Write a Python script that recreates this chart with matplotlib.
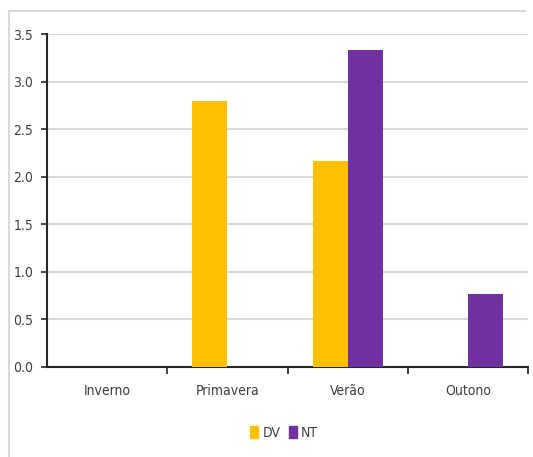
import matplotlib.pyplot as plt
import numpy as np
from matplotlib.patches import Rectangle
from matplotlib.lines import Line2D

seasons = ["Inverno", "Primavera", "Verão", "Outono"]
dv_values = [0.0, 2.80, 2.17, 0.0]
nt_values = [0.0, 0.0, 3.33, 0.77]
y_ticks = [0.0, 0.5, 1.0, 1.5, 2.0, 2.5, 3.0, 3.5]

dv_color = "#FFC000"
nt_color = "#7030A0"

plt.rcParams['font.family'] = ['DejaVu Sans']
plt.rcParams['font.stretch'] = 'condensed'

W, H = 533, 457
fig = plt.figure(figsize=(W / 100, H / 100), dpi=100)

# outer chart-area frame (top and left edges)
fig.add_artist(Line2D([8.5 / W, 526 / W], [1 - 10.5 / H, 1 - 10.5 / H],
                      transform=fig.transFigure, color="#d9d9d9", linewidth=1.5,
                      solid_capstyle="butt"))
fig.add_artist(Line2D([8.5 / W, 8.5 / W], [0.0, 1 - 10.5 / H],
                      transform=fig.transFigure, color="#d9d9d9", linewidth=1.5))

left, right, top, bottom = 47, 528, 34, 367
ax = fig.add_axes([left / W, 1 - bottom / H, (right - left) / W, (bottom - top) / H])

x = np.arange(len(seasons))
bw = 35 / 120.3
ax.bar(x - bw / 2, dv_values, bw, color=dv_color, label="DV", zorder=3)
ax.bar(x + bw / 2, nt_values, bw, color=nt_color, label="NT", zorder=3)

ax.set_xlim(-0.5, len(seasons) - 0.5)
ax.set_ylim(0, 3.5)
ax.set_yticks(y_ticks)
ax.set_yticklabels([f"{v:.1f}" for v in y_ticks], fontsize=10, color="#404040")
ax.yaxis.grid(True, color="#d9d9d9", linewidth=1.5, zorder=0)
ax.set_axisbelow(True)

ax.set_xticks(x)
ax.set_xticklabels(seasons, fontsize=10, color="#404040")
ax.tick_params(axis="x", length=0, pad=12)
ax.set_xticks(np.arange(0.5, len(seasons) - 0.5 + 0.01, 1), minor=True)
ax.tick_params(axis="x", which="minor", length=5, width=1.2, color="#262626", direction="out")
ax.tick_params(axis="y", length=4, width=1.2, color="#262626", pad=6)

for s in ["top", "right"]:
    ax.spines[s].set_visible(False)
ax.spines["left"].set_color("#262626")
ax.spines["left"].set_linewidth(1.5)
ax.spines["bottom"].set_color("#262626")
ax.spines["bottom"].set_linewidth(1.5)

handles = [Rectangle((0, 0), 1, 1, color=dv_color), Rectangle((0, 0), 1, 1, color=nt_color)]
fig.legend(handles, ["DV", "NT"], loc="center", bbox_to_anchor=(284 / W, 1 - 433 / H),
           ncol=2, frameon=False, fontsize=10, handlelength=0.6, handleheight=0.9,
           handletextpad=0.3, columnspacing=0.6, labelcolor="#404040")

fig.savefig("out.png", dpi=100, facecolor="white")
